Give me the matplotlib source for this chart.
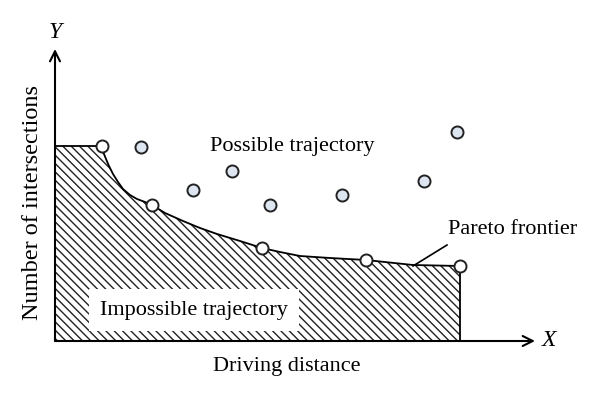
import matplotlib
matplotlib.use('Agg')
import matplotlib.pyplot as plt

plt.rcParams['font.family'] = ['Liberation Serif', 'DejaVu Serif']
plt.rcParams['hatch.linewidth'] = 1.0

# Pareto frontier curve
curve_x = [47, 48, 49, 51, 54, 58, 63, 68, 75, 82, 90, 97, 110, 128, 145, 162,
           185, 207, 225, 245, 275, 311, 358, 405]
curve_y = [195, 191, 187, 182, 175, 167, 159, 152, 146, 142, 139, 136, 128,
           120, 113, 107, 100, 93, 89, 85, 83, 81, 76, 75]

# points on the frontier (white) and other trajectories (light blue)
front_x = [47, 97, 207, 311, 405]
front_y = [195, 136, 93, 81, 75]
other_x = [86, 138, 177, 215, 287, 369, 402]
other_y = [194, 151, 170, 136, 146, 160, 209]

x_end = 480
y_end = 292

fig = plt.figure(figsize=(6, 4.02), dpi=100)
ax = fig.add_axes([0, 0, 1, 1])
ax.set_xlim(-55, 545)
ax.set_ylim(-60, 342)
ax.axis('off')

# hatched impossible region
poly_x = [0, 0] + curve_x + [curve_x[-1], 0]
poly_y = [0, curve_y[0]] + curve_y + [0, 0]
ax.fill(poly_x, poly_y, facecolor='white', edgecolor='#222222',
        hatch='\\\\\\\\', linewidth=0)

# frontier outline
ax.plot([0] + curve_x + [curve_x[-1]], [curve_y[0]] + curve_y + [0],
        color='black', linewidth=1.3)

# axes arrows
ax.annotate('', xy=(x_end, 0), xytext=(0, 0),
            arrowprops=dict(arrowstyle='->', lw=1.5, color='black',
                            mutation_scale=18, shrinkA=0, shrinkB=0))
ax.annotate('', xy=(0, y_end), xytext=(0, 0),
            arrowprops=dict(arrowstyle='->', lw=1.5, color='black',
                            mutation_scale=18, shrinkA=0, shrinkB=0))

ax.scatter(other_x, other_y, s=75, facecolor='#dde5f0', edgecolor='#222222',
           linewidth=1.4, zorder=5)
ax.scatter(front_x, front_y, s=75, facecolor='white', edgecolor='#222222',
           linewidth=1.4, zorder=5)

# leader line to the label
ax.plot([358, 392], [75, 96], color='black', linewidth=1.2)

fs = 16
ax.text(237, 195, 'Possible trajectory', fontsize=fs, ha='center', va='center')
ax.text(139, 31, 'Impossible trajectory', fontsize=fs, ha='center', va='center',
        bbox=dict(facecolor='white', edgecolor='none',
                  boxstyle='square,pad=0.5'))
ax.text(458, 112, 'Pareto frontier', fontsize=fs, ha='center', va='center')
ax.text(232, -25, 'Driving distance', fontsize=fs, ha='center', va='center')
ax.text(-22, 140, 'Number of intersections', fontsize=17.5, ha='center',
        va='center', rotation=90)
ax.text(0, 310, 'Y', fontsize=fs + 1, style='italic', ha='center', va='center')
ax.text(494, 1, 'X', fontsize=fs + 1, style='italic', ha='center', va='center')

fig.savefig('out.png', dpi=100)
